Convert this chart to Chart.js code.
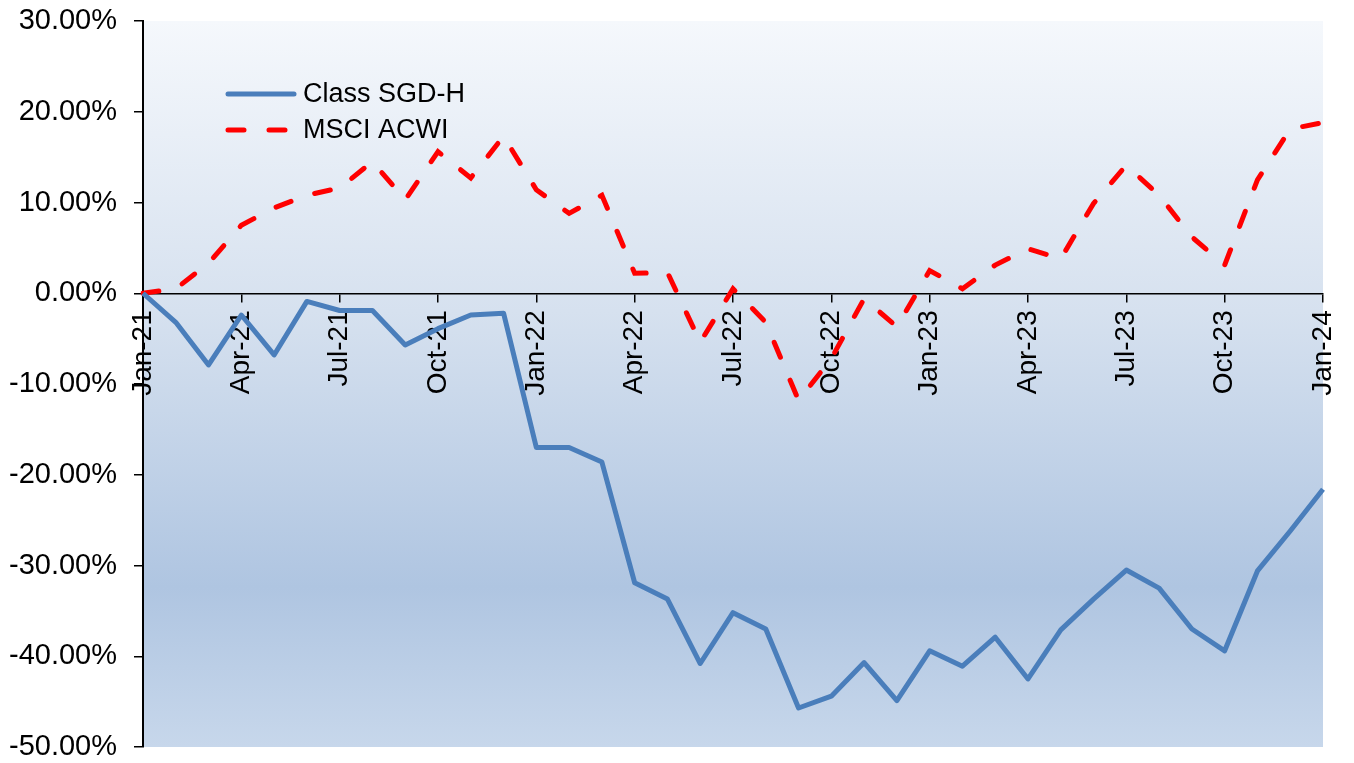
<!DOCTYPE html>
<html>
<head>
<meta charset="utf-8">
<title>Class SGD-H vs MSCI ACWI</title>
<script src="https://cdn.jsdelivr.net/npm/chart.js@4.4.1/dist/chart.umd.min.js"></script>
<style>
  html, body { margin: 0; padding: 0; background: #ffffff; }
  #wrap { width: 1354px; height: 763px; }
</style>
</head>
<body>
<div id="wrap"><canvas id="perf"></canvas></div>
<script>
// DATA (cumulative return, %)
const months = [
    'Jan-21', 'Feb-21', 'Mar-21', 'Apr-21', 'May-21', 'Jun-21', 'Jul-21', 'Aug-21', 'Sep-21', 'Oct-21', 'Nov-21', 'Dec-21',
    'Jan-22', 'Feb-22', 'Mar-22', 'Apr-22', 'May-22', 'Jun-22', 'Jul-22', 'Aug-22', 'Sep-22', 'Oct-22', 'Nov-22', 'Dec-22',
    'Jan-23', 'Feb-23', 'Mar-23', 'Apr-23', 'May-23', 'Jun-23', 'Jul-23', 'Aug-23', 'Sep-23', 'Oct-23', 'Nov-23', 'Dec-23',
    'Jan-24'
];
const classSgdH = [
    0, -3.2, -7.9, -2.4, -6.8, -0.9, -1.9, -1.9, -5.7, -3.9, -2.4, -2.2,
    -17.0, -17.0, -18.6, -31.9, -33.7, -40.8, -35.2, -37.0, -45.7, -44.4, -40.7, -44.9,
    -39.4, -41.1, -37.9, -42.5, -37.1, -33.7, -30.5, -32.5, -37.0, -39.4, -30.6, -26.2,
    -21.6
];
const msciAcwi = [
    0, 0.5, 3.3, 7.5, 9.4, 10.8, 11.6, 14.5, 10.3, 15.6, 12.7, 17.3,
    11.4, 8.8, 10.8, 2.2, 2.3, -5.4, 0.5, -3.2, -11.8, -7.2, -0.6, -3.7,
    2.5, 0.5, 3.1, 4.9, 3.8, 9.9, 14.1, 10.8, 6.2, 3.1, 12.5, 18.1,
    18.8
];
const yTicks = { min: -50, max: 30, step: 10 };

// LOOK
const THEME = {
    blue: '#4a7ebb',
    red: '#ff0000',
    axis: '#000000',
    text: '#000000',
    font: '"Liberation Sans", Arial, sans-serif'
};

// plot background, Excel-style vertical gradient
const plotBackground = {
    id: 'plotBackground',
    beforeDraw(chart) {
        const { ctx, chartArea: a } = chart;
        const g = ctx.createLinearGradient(0, a.top, 0, a.bottom);
        g.addColorStop(0, '#f5f8fc');
        g.addColorStop(0.4, '#d6e1ef');
        g.addColorStop(0.78, '#afc5e1');
        g.addColorStop(1, '#c7d7eb');
        ctx.save();
        ctx.fillStyle = g;
        ctx.fillRect(a.left, a.top, a.right - a.left, a.bottom - a.top);
        ctx.restore();
    }
};

// legend sits inside the plot, top-left
const innerLegend = {
    id: 'innerLegend',
    afterDraw(chart) {
        const { ctx } = chart;
        const rows = [94, 130];
        ctx.save();
        chart.data.datasets.forEach((ds, i) => {
            const y = rows[i];
            ctx.beginPath();
            ctx.strokeStyle = ds.borderColor;
            ctx.lineWidth = ds.borderWidth;
            ctx.lineCap = 'round';
            ctx.setLineDash(ds.borderDash || []);
            ctx.moveTo(228, y);
            ctx.lineTo(294, y);
            ctx.stroke();
            ctx.setLineDash([]);
            ctx.fillStyle = THEME.text;
            ctx.font = '27px ' + THEME.font;
            ctx.textBaseline = 'middle';
            ctx.textAlign = 'left';
            ctx.fillText(ds.label, 303, y + 1);
        });
        ctx.restore();
    }
};

new Chart(document.getElementById('perf'), {
    type: 'line',
    data: {
        labels: months,
        datasets: [
            {
                label: 'Class SGD-H',
                data: classSgdH,
                borderColor: THEME.blue,
                borderWidth: 5,
                borderJoinStyle: 'round',
                pointRadius: 0,
                tension: 0
            },
            {
                label: 'MSCI ACWI',
                data: msciAcwi,
                borderColor: THEME.red,
                borderWidth: 5,
                borderDash: [16, 25],
                borderCapStyle: 'round',
                pointRadius: 0,
                tension: 0
            }
        ]
    },
    options: {
        responsive: true,
        maintainAspectRatio: false,
        animation: false,
        layout: { padding: { left: 0, right: 31, top: 21, bottom: 16 } },
        plugins: {
            legend: { display: false },
            tooltip: { enabled: false }
        },
        scales: {
            x: {
                position: { y: 0 },
                offset: false,
                afterFit: (s) => {
                    s.height = 0;
                    s.paddingLeft = 0;
                    s.paddingRight = 0;
                    s.paddingTop = 0;
                    s.paddingBottom = 0;
                },
                grid: {
                    drawOnChartArea: false,
                    drawTicks: true,
                    tickLength: 8,
                    color: THEME.axis,
                    lineWidth: 1.5
                },
                border: { color: THEME.axis, width: 1.5 },
                ticks: {
                    autoSkip: false,
                    maxRotation: 90,
                    minRotation: 90,
                    padding: 9,
                    color: THEME.text,
                    font: { family: THEME.font, size: 28 },
                    callback: (v, i) => (i % 3 === 0 ? months[i] : null)
                }
            },
            y: {
                min: yTicks.min,
                max: yTicks.max,
                afterFit: (s) => {
                    s.width = 143;
                    s.paddingTop = 0;
                    s.paddingBottom = 0;
                },
                grid: {
                    drawOnChartArea: false,
                    tickLength: 9,
                    color: THEME.axis,
                    lineWidth: 1.5
                },
                border: { color: THEME.axis, width: 2 },
                ticks: {
                    stepSize: yTicks.step,
                    padding: 17,
                    color: THEME.text,
                    font: { family: THEME.font, size: 29 },
                    callback: (v) => v.toFixed(2) + '%'
                }
            }
        }
    },
    plugins: [plotBackground, innerLegend]
});
</script>
</body>
</html>
